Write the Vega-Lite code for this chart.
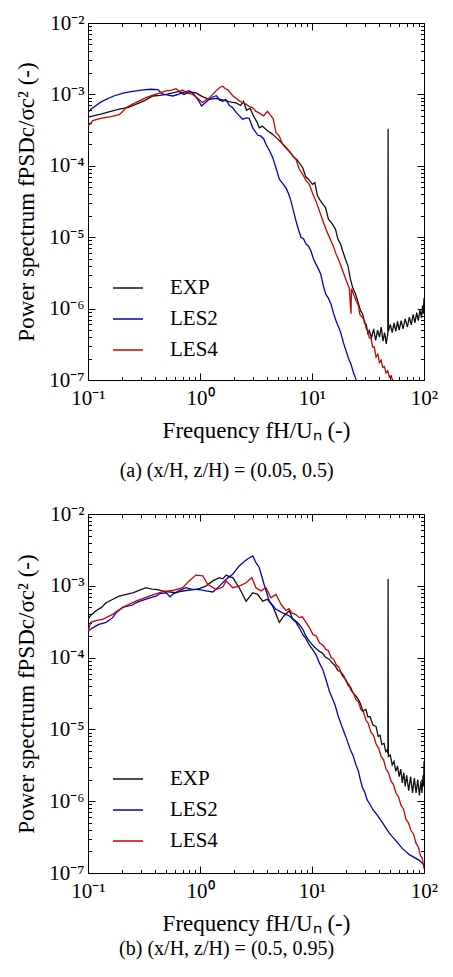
{
"$schema": "https://vega.github.io/schema/vega-lite/v6.json",
"background": "white",
"padding": {"left": 15, "top": 12, "right": 5, "bottom": 5},
"spacing": 22,
"config": {
  "font": "Liberation Serif",
  "view": {"stroke": null},
  "axis": {"labelFont": "Liberation Serif", "titleFont": "Liberation Serif", "labelColor": "black", "titleColor": "black", "domainColor": "black", "tickColor": "black", "grid": false, "labelFontSize": 21, "titleFontSize": 23, "titleFontWeight": "normal"},
  "title": {"font": "Liberation Serif", "fontWeight": "normal", "color": "black"}
},
"resolve": {"legend": {"color": "independent"}},
"datasets": {
"a": [
{"s":"EXP","x":0.1,"y":4.8e-4},{"s":"EXP","x":0.13,"y":5.3e-4},{"s":"EXP","x":0.16,"y":5.8e-4},{"s":"EXP","x":0.19,"y":6.2e-4},{"s":"EXP","x":0.23,"y":6.6e-4},{"s":"EXP","x":0.27,"y":7.3e-4},{"s":"EXP","x":0.32,"y":8.2e-4},{"s":"EXP","x":0.38,"y":9.5e-4},{"s":"EXP","x":0.44,"y":9.7e-4},{"s":"EXP","x":0.5,"y":1.0e-3},{"s":"EXP","x":0.57,"y":1.05e-3},{"s":"EXP","x":0.65,"y":1.1e-3},{"s":"EXP","x":0.72,"y":1.0e-3},{"s":"EXP","x":0.8,"y":1.08e-3},{"s":"EXP","x":0.92,"y":1.05e-3},{"s":"EXP","x":1.05,"y":9.3e-4},{"s":"EXP","x":1.2,"y":8.5e-4},{"s":"EXP","x":1.4,"y":8.8e-4},{"s":"EXP","x":1.71,"y":8.1e-4},{"s":"EXP","x":1.9,"y":7.8e-4},{"s":"EXP","x":2.1,"y":7.6e-4},{"s":"EXP","x":2.3,"y":7.0e-4},{"s":"EXP","x":2.45,"y":8.0e-4},{"s":"EXP","x":2.6,"y":6.0e-4},{"s":"EXP","x":2.8,"y":6.4e-4},{"s":"EXP","x":3.0,"y":5.0e-4},{"s":"EXP","x":3.2,"y":4.2e-4},{"s":"EXP","x":3.38,"y":3.4e-4},{"s":"EXP","x":3.6,"y":3.6e-4},{"s":"EXP","x":4.0,"y":3.1e-4},{"s":"EXP","x":4.4,"y":2.8e-4},{"s":"EXP","x":4.77,"y":2.5e-4},{"s":"EXP","x":5.2,"y":2.2e-4},{"s":"EXP","x":5.7,"y":1.9e-4},{"s":"EXP","x":6.27,"y":1.6e-4},{"s":"EXP","x":6.8,"y":1.35e-4},{"s":"EXP","x":7.4,"y":1.2e-4},{"s":"EXP","x":8.26,"y":9.4e-5},{"s":"EXP","x":8.8,"y":7.0e-5},{"s":"EXP","x":9.3,"y":6.5e-5},{"s":"EXP","x":10.1,"y":5.5e-5},{"s":"EXP","x":10.6,"y":5.8e-5},{"s":"EXP","x":11.2,"y":3.8e-5},{"s":"EXP","x":11.8,"y":3.3e-5},{"s":"EXP","x":12.5,"y":2.9e-5},{"s":"EXP","x":13.2,"y":2.6e-5},{"s":"EXP","x":14,"y":1.8e-5},{"s":"EXP","x":15.3,"y":1.5e-5},{"s":"EXP","x":16.2,"y":1.3e-5},{"s":"EXP","x":17,"y":9.5e-6},{"s":"EXP","x":18,"y":8.0e-6},{"s":"EXP","x":18.8,"y":6.4e-6},{"s":"EXP","x":20,"y":4.8e-6},{"s":"EXP","x":21,"y":3.9e-6},{"s":"EXP","x":22,"y":2.6e-6},{"s":"EXP","x":23.1,"y":1.95e-6},{"s":"EXP","x":24.5,"y":1.6e-6},{"s":"EXP","x":25.5,"y":1.3e-6},{"s":"EXP","x":27,"y":9.5e-7},{"s":"EXP","x":28.4,"y":8.3e-7},{"s":"EXP","x":29.5,"y":6.2e-7},{"s":"EXP","x":30.5,"y":6.0e-7},{"s":"EXP","x":31.5,"y":4.5e-7},{"s":"EXP","x":32.5,"y":4.9e-7},{"s":"EXP","x":34,"y":3.9e-7},{"s":"EXP","x":35.5,"y":5.2e-7},{"s":"EXP","x":37,"y":3.6e-7},{"s":"EXP","x":38.5,"y":5.0e-7},{"s":"EXP","x":40,"y":4.0e-7},{"s":"EXP","x":41.5,"y":5.5e-7},{"s":"EXP","x":43,"y":3.5e-7},{"s":"EXP","x":44.5,"y":4.6e-7},{"s":"EXP","x":46,"y":3.2e-7},{"s":"EXP","x":47.5,"y":4.5e-7},{"s":"EXP","x":47.8,"y":3.3e-4},{"s":"EXP","x":48.1,"y":4.8e-7},{"s":"EXP","x":50,"y":6.0e-7},{"s":"EXP","x":52,"y":4.6e-7},{"s":"EXP","x":54,"y":6.3e-7},{"s":"EXP","x":56,"y":4.8e-7},{"s":"EXP","x":58,"y":6.6e-7},{"s":"EXP","x":60,"y":5.0e-7},{"s":"EXP","x":62.5,"y":6.8e-7},{"s":"EXP","x":65,"y":5.2e-7},{"s":"EXP","x":68,"y":7.2e-7},{"s":"EXP","x":71,"y":5.5e-7},{"s":"EXP","x":74,"y":7.6e-7},{"s":"EXP","x":77,"y":5.9e-7},{"s":"EXP","x":80,"y":8.3e-7},{"s":"EXP","x":83,"y":6.3e-7},{"s":"EXP","x":86,"y":8.8e-7},{"s":"EXP","x":89,"y":6.8e-7},{"s":"EXP","x":92,"y":9.6e-7},{"s":"EXP","x":95,"y":7.4e-7},{"s":"EXP","x":97,"y":1.1e-6},{"s":"EXP","x":98.5,"y":8.5e-7},{"s":"EXP","x":100,"y":1.4e-6},
{"s":"LES2","x":0.1,"y":5.5e-4},{"s":"LES2","x":0.106,"y":6.2e-4},{"s":"LES2","x":0.118,"y":7.0e-4},{"s":"LES2","x":0.13,"y":7.8e-4},{"s":"LES2","x":0.145,"y":8.5e-4},{"s":"LES2","x":0.17,"y":9.5e-4},{"s":"LES2","x":0.21,"y":1.05e-3},{"s":"LES2","x":0.25,"y":1.1e-3},{"s":"LES2","x":0.3,"y":1.15e-3},{"s":"LES2","x":0.36,"y":1.18e-3},{"s":"LES2","x":0.42,"y":1.17e-3},{"s":"LES2","x":0.46,"y":1.02e-3},{"s":"LES2","x":0.52,"y":9.8e-4},{"s":"LES2","x":0.57,"y":9.5e-4},{"s":"LES2","x":0.64,"y":1.0e-3},{"s":"LES2","x":0.7,"y":1.06e-3},{"s":"LES2","x":0.76,"y":1.1e-3},{"s":"LES2","x":0.8,"y":1.13e-3},{"s":"LES2","x":0.86,"y":1.05e-3},{"s":"LES2","x":0.92,"y":9.2e-4},{"s":"LES2","x":0.98,"y":8.0e-4},{"s":"LES2","x":1.03,"y":6.9e-4},{"s":"LES2","x":1.1,"y":7.5e-4},{"s":"LES2","x":1.18,"y":8.3e-4},{"s":"LES2","x":1.3,"y":9.2e-4},{"s":"LES2","x":1.4,"y":9.6e-4},{"s":"LES2","x":1.5,"y":8.3e-4},{"s":"LES2","x":1.6,"y":8.0e-4},{"s":"LES2","x":1.7,"y":8.5e-4},{"s":"LES2","x":1.83,"y":7.0e-4},{"s":"LES2","x":1.96,"y":6.5e-4},{"s":"LES2","x":2.1,"y":5.6e-4},{"s":"LES2","x":2.25,"y":5.0e-4},{"s":"LES2","x":2.4,"y":4.5e-4},{"s":"LES2","x":2.6,"y":4.7e-4},{"s":"LES2","x":2.75,"y":4.6e-4},{"s":"LES2","x":2.96,"y":3.4e-4},{"s":"LES2","x":3.27,"y":2.7e-4},{"s":"LES2","x":3.5,"y":2.6e-4},{"s":"LES2","x":3.7,"y":2.4e-4},{"s":"LES2","x":3.88,"y":2.0e-4},{"s":"LES2","x":4.2,"y":1.6e-4},{"s":"LES2","x":4.46,"y":1.3e-4},{"s":"LES2","x":4.8,"y":9.0e-5},{"s":"LES2","x":5.11,"y":6.5e-5},{"s":"LES2","x":5.5,"y":5.6e-5},{"s":"LES2","x":5.86,"y":4.9e-5},{"s":"LES2","x":6.2,"y":4.0e-5},{"s":"LES2","x":6.49,"y":3.2e-5},{"s":"LES2","x":6.8,"y":2.4e-5},{"s":"LES2","x":7.19,"y":1.7e-5},{"s":"LES2","x":7.6,"y":1.25e-5},{"s":"LES2","x":7.97,"y":1.0e-5},{"s":"LES2","x":8.4,"y":9.5e-6},{"s":"LES2","x":8.84,"y":8.0e-6},{"s":"LES2","x":9.3,"y":7.5e-6},{"s":"LES2","x":9.79,"y":6.4e-6},{"s":"LES2","x":10.3,"y":5.0e-6},{"s":"LES2","x":10.85,"y":4.2e-6},{"s":"LES2","x":11.4,"y":3.6e-6},{"s":"LES2","x":12.0,"y":3.0e-6},{"s":"LES2","x":12.6,"y":2.1e-6},{"s":"LES2","x":13.3,"y":1.58e-6},{"s":"LES2","x":14,"y":1.4e-6},{"s":"LES2","x":14.8,"y":1.15e-6},{"s":"LES2","x":15.6,"y":8.5e-7},{"s":"LES2","x":16.4,"y":6.7e-7},{"s":"LES2","x":17.3,"y":5.5e-7},{"s":"LES2","x":18.2,"y":4.4e-7},{"s":"LES2","x":19.1,"y":3.3e-7},{"s":"LES2","x":20.1,"y":2.6e-7},{"s":"LES2","x":21.2,"y":2.0e-7},{"s":"LES2","x":22.3,"y":1.66e-7},{"s":"LES2","x":23.5,"y":1.25e-7},{"s":"LES2","x":24.7,"y":1.02e-7},{"s":"LES2","x":26,"y":8e-8},
{"s":"LES4","x":0.1,"y":3.6e-4},{"s":"LES4","x":0.105,"y":3.9e-4},{"s":"LES4","x":0.11,"y":4.3e-4},{"s":"LES4","x":0.13,"y":4.6e-4},{"s":"LES4","x":0.16,"y":4.9e-4},{"s":"LES4","x":0.19,"y":5.2e-4},{"s":"LES4","x":0.205,"y":5.8e-4},{"s":"LES4","x":0.218,"y":6.5e-4},{"s":"LES4","x":0.25,"y":7.3e-4},{"s":"LES4","x":0.287,"y":8.1e-4},{"s":"LES4","x":0.33,"y":9.0e-4},{"s":"LES4","x":0.38,"y":9.8e-4},{"s":"LES4","x":0.44,"y":1.05e-3},{"s":"LES4","x":0.5,"y":1.12e-3},{"s":"LES4","x":0.56,"y":1.15e-3},{"s":"LES4","x":0.61,"y":1.2e-3},{"s":"LES4","x":0.66,"y":1.1e-3},{"s":"LES4","x":0.7,"y":1.15e-3},{"s":"LES4","x":0.76,"y":1.05e-3},{"s":"LES4","x":0.86,"y":1.0e-3},{"s":"LES4","x":0.95,"y":8.8e-4},{"s":"LES4","x":1.05,"y":7.7e-4},{"s":"LES4","x":1.15,"y":8.5e-4},{"s":"LES4","x":1.21,"y":9.0e-4},{"s":"LES4","x":1.3,"y":1.0e-3},{"s":"LES4","x":1.39,"y":1.12e-3},{"s":"LES4","x":1.5,"y":1.25e-3},{"s":"LES4","x":1.6,"y":1.3e-3},{"s":"LES4","x":1.68,"y":1.2e-3},{"s":"LES4","x":1.77,"y":1.17e-3},{"s":"LES4","x":1.87,"y":1.05e-3},{"s":"LES4","x":1.96,"y":9.6e-4},{"s":"LES4","x":2.1,"y":8.8e-4},{"s":"LES4","x":2.24,"y":8.1e-4},{"s":"LES4","x":2.4,"y":7.7e-4},{"s":"LES4","x":2.57,"y":7.3e-4},{"s":"LES4","x":2.75,"y":6.8e-4},{"s":"LES4","x":2.96,"y":6.5e-4},{"s":"LES4","x":3.15,"y":5.8e-4},{"s":"LES4","x":3.37,"y":5.5e-4},{"s":"LES4","x":3.7,"y":5.0e-4},{"s":"LES4","x":4.0,"y":5.8e-4},{"s":"LES4","x":4.3,"y":5.0e-4},{"s":"LES4","x":4.5,"y":4.6e-4},{"s":"LES4","x":4.77,"y":2.9e-4},{"s":"LES4","x":5.1,"y":2.6e-4},{"s":"LES4","x":5.47,"y":2.0e-4},{"s":"LES4","x":5.9,"y":1.75e-4},{"s":"LES4","x":6.27,"y":1.6e-4},{"s":"LES4","x":6.7,"y":1.4e-4},{"s":"LES4","x":7.19,"y":1.23e-4},{"s":"LES4","x":7.7,"y":9.0e-5},{"s":"LES4","x":8.26,"y":7.6e-5},{"s":"LES4","x":8.8,"y":6.3e-5},{"s":"LES4","x":9.46,"y":5.5e-5},{"s":"LES4","x":10.2,"y":4.0e-5},{"s":"LES4","x":10.85,"y":3.2e-5},{"s":"LES4","x":11.7,"y":2.3e-5},{"s":"LES4","x":12.5,"y":1.7e-5},{"s":"LES4","x":13.3,"y":1.3e-5},{"s":"LES4","x":14.3,"y":1.0e-5},{"s":"LES4","x":15.5,"y":7.5e-6},{"s":"LES4","x":16.4,"y":5.8e-6},{"s":"LES4","x":17.5,"y":4.6e-6},{"s":"LES4","x":18.8,"y":3.4e-6},{"s":"LES4","x":20,"y":2.6e-6},{"s":"LES4","x":21.5,"y":1.95e-6},{"s":"LES4","x":22.3,"y":8.5e-7},{"s":"LES4","x":22.5,"y":1.9e-6},{"s":"LES4","x":24.7,"y":1.3e-6},{"s":"LES4","x":26,"y":1.1e-6},{"s":"LES4","x":26.8,"y":8.2e-7},{"s":"LES4","x":28.4,"y":7.4e-7},{"s":"LES4","x":29.4,"y":6.8e-7},{"s":"LES4","x":30.5,"y":5.2e-7},{"s":"LES4","x":31.5,"y":5.0e-7},{"s":"LES4","x":32.5,"y":3.9e-7},{"s":"LES4","x":33.6,"y":3.9e-7},{"s":"LES4","x":34.8,"y":2.9e-7},{"s":"LES4","x":36,"y":2.9e-7},{"s":"LES4","x":37.3,"y":2.1e-7},{"s":"LES4","x":38.7,"y":2.3e-7},{"s":"LES4","x":40,"y":1.75e-7},{"s":"LES4","x":41.4,"y":1.9e-7},{"s":"LES4","x":42.8,"y":1.5e-7},{"s":"LES4","x":44.3,"y":1.55e-7},{"s":"LES4","x":45.8,"y":1.25e-7},{"s":"LES4","x":47.5,"y":1.35e-7},{"s":"LES4","x":49,"y":1.1e-7},{"s":"LES4","x":50.8,"y":1.15e-7},{"s":"LES4","x":52.5,"y":9.8e-8},{"s":"LES4","x":56.2,"y":9.5e-8},{"s":"LES4","x":60,"y":8e-8}
],
"b": [
{"s":"EXP","x":0.1,"y":3.4e-4},{"s":"EXP","x":0.106,"y":3.9e-4},{"s":"EXP","x":0.118,"y":4.5e-4},{"s":"EXP","x":0.132,"y":5.0e-4},{"s":"EXP","x":0.145,"y":5.8e-4},{"s":"EXP","x":0.17,"y":6.6e-4},{"s":"EXP","x":0.19,"y":7.2e-4},{"s":"EXP","x":0.22,"y":7.6e-4},{"s":"EXP","x":0.251,"y":8.0e-4},{"s":"EXP","x":0.29,"y":8.7e-4},{"s":"EXP","x":0.33,"y":9.4e-4},{"s":"EXP","x":0.37,"y":9.0e-4},{"s":"EXP","x":0.405,"y":8.9e-4},{"s":"EXP","x":0.46,"y":8.5e-4},{"s":"EXP","x":0.5,"y":8.3e-4},{"s":"EXP","x":0.61,"y":8.0e-4},{"s":"EXP","x":0.68,"y":8.4e-4},{"s":"EXP","x":0.75,"y":8.6e-4},{"s":"EXP","x":0.85,"y":8.8e-4},{"s":"EXP","x":0.92,"y":8.9e-4},{"s":"EXP","x":1.0,"y":9.2e-4},{"s":"EXP","x":1.13,"y":9.9e-4},{"s":"EXP","x":1.3,"y":1.17e-3},{"s":"EXP","x":1.49,"y":1.3e-3},{"s":"EXP","x":1.6,"y":1.25e-3},{"s":"EXP","x":1.71,"y":1.41e-3},{"s":"EXP","x":1.85,"y":1.33e-3},{"s":"EXP","x":1.96,"y":1.3e-3},{"s":"EXP","x":2.24,"y":9.4e-4},{"s":"EXP","x":2.58,"y":6.1e-4},{"s":"EXP","x":2.96,"y":8.0e-4},{"s":"EXP","x":3.27,"y":7.6e-4},{"s":"EXP","x":3.63,"y":6.1e-4},{"s":"EXP","x":4.0,"y":6.5e-4},{"s":"EXP","x":4.46,"y":5.2e-4},{"s":"EXP","x":5.11,"y":3.1e-4},{"s":"EXP","x":5.6,"y":3.8e-4},{"s":"EXP","x":6.27,"y":4.5e-4},{"s":"EXP","x":6.7,"y":3.5e-4},{"s":"EXP","x":7.19,"y":3.2e-4},{"s":"EXP","x":7.7,"y":2.9e-4},{"s":"EXP","x":8.26,"y":2.5e-4},{"s":"EXP","x":8.8,"y":2.0e-4},{"s":"EXP","x":9.46,"y":1.7e-4},{"s":"EXP","x":10.5,"y":1.4e-4},{"s":"EXP","x":11.6,"y":1.23e-4},{"s":"EXP","x":12.4,"y":1.15e-4},{"s":"EXP","x":13.3,"y":1.0e-4},{"s":"EXP","x":14.2,"y":9.5e-5},{"s":"EXP","x":15.3,"y":8.3e-5},{"s":"EXP","x":16.2,"y":7.6e-5},{"s":"EXP","x":17,"y":6.6e-5},{"s":"EXP","x":17.9,"y":6.4e-5},{"s":"EXP","x":18.8,"y":5.5e-5},{"s":"EXP","x":20.1,"y":4.9e-5},{"s":"EXP","x":21,"y":4.1e-5},{"s":"EXP","x":22,"y":3.9e-5},{"s":"EXP","x":23.3,"y":3.2e-5},{"s":"EXP","x":24.7,"y":2.9e-5},{"s":"EXP","x":26,"y":2.6e-5},{"s":"EXP","x":27,"y":2.3e-5},{"s":"EXP","x":28.5,"y":1.8e-5},{"s":"EXP","x":30.3,"y":1.9e-5},{"s":"EXP","x":31.5,"y":1.5e-5},{"s":"EXP","x":33,"y":1.5e-5},{"s":"EXP","x":35,"y":1.15e-5},{"s":"EXP","x":37.3,"y":1.1e-5},{"s":"EXP","x":39,"y":8.0e-6},{"s":"EXP","x":40.5,"y":8.3e-6},{"s":"EXP","x":42,"y":6.2e-6},{"s":"EXP","x":44,"y":6.4e-6},{"s":"EXP","x":45.5,"y":4.9e-6},{"s":"EXP","x":47,"y":5.2e-6},{"s":"EXP","x":47.6,"y":4.6e-6},{"s":"EXP","x":47.8,"y":1.24e-3},{"s":"EXP","x":48.1,"y":4.2e-6},{"s":"EXP","x":50,"y":4.4e-6},{"s":"EXP","x":52,"y":3.2e-6},{"s":"EXP","x":54,"y":3.6e-6},{"s":"EXP","x":56,"y":2.6e-6},{"s":"EXP","x":58,"y":3.1e-6},{"s":"EXP","x":60,"y":2.2e-6},{"s":"EXP","x":62,"y":2.8e-6},{"s":"EXP","x":64,"y":1.8e-6},{"s":"EXP","x":66,"y":2.5e-6},{"s":"EXP","x":68,"y":1.6e-6},{"s":"EXP","x":70,"y":2.3e-6},{"s":"EXP","x":73,"y":1.4e-6},{"s":"EXP","x":76,"y":2.2e-6},{"s":"EXP","x":79,"y":1.3e-6},{"s":"EXP","x":82,"y":2.1e-6},{"s":"EXP","x":85,"y":1.3e-6},{"s":"EXP","x":88,"y":2.0e-6},{"s":"EXP","x":91,"y":1.2e-6},{"s":"EXP","x":94,"y":1.9e-6},{"s":"EXP","x":96,"y":1.3e-6},{"s":"EXP","x":98,"y":2.3e-6},{"s":"EXP","x":99,"y":1.6e-6},{"s":"EXP","x":100,"y":3.6e-6},
{"s":"LES2","x":0.1,"y":2.34e-4},{"s":"LES2","x":0.11,"y":2.6e-4},{"s":"LES2","x":0.125,"y":2.9e-4},{"s":"LES2","x":0.145,"y":3.1e-4},{"s":"LES2","x":0.166,"y":3.6e-4},{"s":"LES2","x":0.18,"y":4.3e-4},{"s":"LES2","x":0.204,"y":5.0e-4},{"s":"LES2","x":0.25,"y":5.4e-4},{"s":"LES2","x":0.268,"y":5.8e-4},{"s":"LES2","x":0.3,"y":6.2e-4},{"s":"LES2","x":0.33,"y":6.5e-4},{"s":"LES2","x":0.37,"y":6.9e-4},{"s":"LES2","x":0.405,"y":7.2e-4},{"s":"LES2","x":0.44,"y":7.8e-4},{"s":"LES2","x":0.5,"y":8.0e-4},{"s":"LES2","x":0.54,"y":7.0e-4},{"s":"LES2","x":0.57,"y":7.6e-4},{"s":"LES2","x":0.65,"y":8.6e-4},{"s":"LES2","x":0.75,"y":9.4e-4},{"s":"LES2","x":0.84,"y":9.0e-4},{"s":"LES2","x":0.92,"y":8.9e-4},{"s":"LES2","x":1.05,"y":8.7e-4},{"s":"LES2","x":1.13,"y":8.5e-4},{"s":"LES2","x":1.3,"y":8.2e-4},{"s":"LES2","x":1.49,"y":9.9e-4},{"s":"LES2","x":1.71,"y":1.23e-3},{"s":"LES2","x":1.96,"y":1.45e-3},{"s":"LES2","x":2.24,"y":1.89e-3},{"s":"LES2","x":2.5,"y":2.2e-3},{"s":"LES2","x":2.7,"y":2.4e-3},{"s":"LES2","x":2.96,"y":2.6e-3},{"s":"LES2","x":3.16,"y":2.1e-3},{"s":"LES2","x":3.38,"y":1.8e-3},{"s":"LES2","x":3.73,"y":1.05e-3},{"s":"LES2","x":4.16,"y":6.1e-4},{"s":"LES2","x":4.77,"y":4.7e-4},{"s":"LES2","x":5.47,"y":4.2e-4},{"s":"LES2","x":6.27,"y":3.8e-4},{"s":"LES2","x":7.19,"y":3.1e-4},{"s":"LES2","x":7.7,"y":2.6e-4},{"s":"LES2","x":8.26,"y":2.1e-4},{"s":"LES2","x":8.8,"y":1.85e-4},{"s":"LES2","x":9.46,"y":1.5e-4},{"s":"LES2","x":10.1,"y":1.3e-4},{"s":"LES2","x":10.85,"y":1.1e-4},{"s":"LES2","x":11.6,"y":8.5e-5},{"s":"LES2","x":12.5,"y":6.8e-5},{"s":"LES2","x":13.3,"y":5.0e-5},{"s":"LES2","x":14.3,"y":3.4e-5},{"s":"LES2","x":15.5,"y":2.5e-5},{"s":"LES2","x":16.2,"y":2.1e-5},{"s":"LES2","x":17,"y":1.6e-5},{"s":"LES2","x":18.3,"y":1.15e-5},{"s":"LES2","x":20.1,"y":7.8e-6},{"s":"LES2","x":22,"y":5.2e-6},{"s":"LES2","x":23.3,"y":4.3e-6},{"s":"LES2","x":24.7,"y":3.2e-6},{"s":"LES2","x":26,"y":2.6e-6},{"s":"LES2","x":27,"y":2.0e-6},{"s":"LES2","x":28.2,"y":1.55e-6},{"s":"LES2","x":29.5,"y":1.35e-6},{"s":"LES2","x":31,"y":1.05e-6},{"s":"LES2","x":33,"y":9.0e-7},{"s":"LES2","x":35,"y":7.6e-7},{"s":"LES2","x":38,"y":6.5e-7},{"s":"LES2","x":42.7,"y":5.0e-7},{"s":"LES2","x":49,"y":3.6e-7},{"s":"LES2","x":56.2,"y":2.8e-7},{"s":"LES2","x":64,"y":2.2e-7},{"s":"LES2","x":74,"y":1.8e-7},{"s":"LES2","x":90.8,"y":1.5e-7},{"s":"LES2","x":100,"y":1.3e-7},
{"s":"LES4","x":0.1,"y":2.34e-4},{"s":"LES4","x":0.106,"y":3.1e-4},{"s":"LES4","x":0.12,"y":3.3e-4},{"s":"LES4","x":0.135,"y":3.4e-4},{"s":"LES4","x":0.166,"y":4.0e-4},{"s":"LES4","x":0.204,"y":5.0e-4},{"s":"LES4","x":0.268,"y":6.1e-4},{"s":"LES4","x":0.352,"y":7.2e-4},{"s":"LES4","x":0.465,"y":8.3e-4},{"s":"LES4","x":0.57,"y":8.6e-4},{"s":"LES4","x":0.7,"y":9.4e-4},{"s":"LES4","x":0.8,"y":1.17e-3},{"s":"LES4","x":0.92,"y":1.41e-3},{"s":"LES4","x":1.06,"y":1.38e-3},{"s":"LES4","x":1.17,"y":1.05e-3},{"s":"LES4","x":1.39,"y":8.9e-4},{"s":"LES4","x":1.6,"y":9.6e-4},{"s":"LES4","x":1.71,"y":1.17e-3},{"s":"LES4","x":1.83,"y":1.05e-3},{"s":"LES4","x":1.96,"y":9.4e-4},{"s":"LES4","x":2.24,"y":9.9e-4},{"s":"LES4","x":2.58,"y":1.1e-3},{"s":"LES4","x":2.9,"y":1.3e-3},{"s":"LES4","x":3.16,"y":9.4e-4},{"s":"LES4","x":3.5,"y":8.5e-4},{"s":"LES4","x":3.88,"y":9.4e-4},{"s":"LES4","x":4.3,"y":6.8e-4},{"s":"LES4","x":4.77,"y":7.6e-4},{"s":"LES4","x":5.3,"y":5.5e-4},{"s":"LES4","x":5.86,"y":4.5e-4},{"s":"LES4","x":6.2,"y":4.8e-4},{"s":"LES4","x":6.6,"y":4.2e-4},{"s":"LES4","x":7.1,"y":4.0e-4},{"s":"LES4","x":7.7,"y":3.6e-4},{"s":"LES4","x":8.2,"y":3.7e-4},{"s":"LES4","x":8.84,"y":3.1e-4},{"s":"LES4","x":9.5,"y":2.6e-4},{"s":"LES4","x":10.2,"y":2.1e-4},{"s":"LES4","x":10.9,"y":2.0e-4},{"s":"LES4","x":11.7,"y":1.6e-4},{"s":"LES4","x":12.5,"y":1.5e-4},{"s":"LES4","x":13.3,"y":1.3e-4},{"s":"LES4","x":14,"y":1.25e-4},{"s":"LES4","x":14.8,"y":1.0e-4},{"s":"LES4","x":15.6,"y":9.5e-5},{"s":"LES4","x":16.4,"y":8.0e-5},{"s":"LES4","x":17.3,"y":7.4e-5},{"s":"LES4","x":18.2,"y":6.2e-5},{"s":"LES4","x":19.2,"y":5.6e-5},{"s":"LES4","x":20.1,"y":4.7e-5},{"s":"LES4","x":21.2,"y":4.3e-5},{"s":"LES4","x":22.3,"y":3.5e-5},{"s":"LES4","x":23.5,"y":3.2e-5},{"s":"LES4","x":24.7,"y":2.6e-5},{"s":"LES4","x":26,"y":2.4e-5},{"s":"LES4","x":27.3,"y":1.9e-5},{"s":"LES4","x":28.8,"y":1.75e-5},{"s":"LES4","x":30.3,"y":1.35e-5},{"s":"LES4","x":31.9,"y":1.2e-5},{"s":"LES4","x":33.5,"y":9.2e-6},{"s":"LES4","x":35.4,"y":8.3e-6},{"s":"LES4","x":37.3,"y":6.3e-6},{"s":"LES4","x":39.3,"y":5.5e-6},{"s":"LES4","x":41.4,"y":4.2e-6},{"s":"LES4","x":43.5,"y":3.8e-6},{"s":"LES4","x":45.8,"y":2.8e-6},{"s":"LES4","x":48.2,"y":2.5e-6},{"s":"LES4","x":50.8,"y":1.9e-6},{"s":"LES4","x":53.4,"y":1.7e-6},{"s":"LES4","x":56.2,"y":1.3e-6},{"s":"LES4","x":59.2,"y":1.15e-6},{"s":"LES4","x":62.3,"y":8.8e-7},{"s":"LES4","x":65.6,"y":7.8e-7},{"s":"LES4","x":69,"y":5.6e-7},{"s":"LES4","x":72.6,"y":5.0e-7},{"s":"LES4","x":76.5,"y":3.9e-7},{"s":"LES4","x":80.5,"y":3.5e-7},{"s":"LES4","x":84.9,"y":2.6e-7},{"s":"LES4","x":89,"y":2.3e-7},{"s":"LES4","x":93,"y":1.75e-7},{"s":"LES4","x":96.5,"y":1.6e-7},{"s":"LES4","x":100,"y":1.15e-7}
]
},
"vconcat": [
{
  "width": 336, "height": 357,
  "title": {"text": "(a)    (x/H, z/H) = (0.05, 0.5)", "orient": "bottom", "anchor": "middle", "frame": "bounds", "fontSize": 20, "offset": 18},
  "data": {"name": "a"},
  "layer": [
    {"mark": {"type": "line", "clip": true, "strokeWidth": 1.3},
     "encoding": {
      "x": {"field": "x", "type": "quantitative", "scale": {"type": "log", "domain": [0.1, 100], "nice": false},
        "axis": {"orient": "bottom", "title": "Frequency fH/Uₙ (-)", "titlePadding": 8,
          "values": [0.1,0.2,0.3,0.4,0.5,0.6,0.7,0.8,0.9,1,2,3,4,5,6,7,8,9,10,20,30,40,50,60,70,80,90,100],
          "labelExpr": "abs(log(datum.value)/LN10 - round(log(datum.value)/LN10)) < 0.01 ? '10' + (round(log(datum.value)/LN10) < 0 ? '⁻' : '') + ['⁰','¹','²','³','⁴','⁵','⁶','⁷','⁸','⁹'][abs(round(log(datum.value)/LN10))] : ''",
          "tickSize": {"condition": {"test": "abs(log(datum.value)/LN10 - round(log(datum.value)/LN10)) < 0.01", "value": -7}, "value": -3.5},
          "labelPadding": 14, "labelFlush": false, "labelOverlap": false}},
      "y": {"field": "y", "type": "quantitative", "scale": {"type": "log", "domain": [1e-7, 1e-2], "nice": false},
        "axis": {"orient": "left", "title": "Power spectrum fPSDc/σc² (-)", "titlePadding": 10,
          "values": [1e-7,2e-7,3e-7,4e-7,5e-7,6e-7,7e-7,8e-7,9e-7,1e-6,2e-6,3e-6,4e-6,5e-6,6e-6,7e-6,8e-6,9e-6,1e-5,2e-5,3e-5,4e-5,5e-5,6e-5,7e-5,8e-5,9e-5,1e-4,2e-4,3e-4,4e-4,5e-4,6e-4,7e-4,8e-4,9e-4,1e-3,2e-3,3e-3,4e-3,5e-3,6e-3,7e-3,8e-3,9e-3,1e-2],
          "labelExpr": "abs(log(datum.value)/LN10 - round(log(datum.value)/LN10)) < 0.01 ? '10' + (round(log(datum.value)/LN10) < 0 ? '⁻' : '') + ['⁰','¹','²','³','⁴','⁵','⁶','⁷','⁸','⁹'][abs(round(log(datum.value)/LN10))] : ''",
          "tickSize": {"condition": {"test": "abs(log(datum.value)/LN10 - round(log(datum.value)/LN10)) < 0.01", "value": -7}, "value": -3.5},
          "labelPadding": 11, "labelFlush": false, "labelOverlap": false}},
      "color": {"field": "s", "type": "nominal", "scale": {"domain": ["EXP", "LES2", "LES4"], "range": ["#111111", "#0000c8", "#cc0000"]},
        "legend": {"orient": "none", "legendX": 24, "legendY": 249, "title": null, "symbolType": "stroke", "symbolSize": 900, "symbolStrokeWidth": 1.5, "labelFont": "Liberation Serif", "labelFontSize": 21, "labelColor": "black", "labelOffset": 26, "rowPadding": 5, "padding": 0}}
     }},
    {"mark": {"type": "line", "opacity": 0},
     "encoding": {
      "x": {"field": "x", "type": "quantitative", "scale": {"type": "log", "domain": [0.1, 100], "nice": false},
        "axis": {"orient": "top", "title": null, "labels": false,
          "values": [0.1,0.2,0.3,0.4,0.5,0.6,0.7,0.8,0.9,1,2,3,4,5,6,7,8,9,10,20,30,40,50,60,70,80,90,100],
          "tickSize": {"condition": {"test": "abs(log(datum.value)/LN10 - round(log(datum.value)/LN10)) < 0.01", "value": -7}, "value": -3.5}}},
      "y": {"field": "y", "type": "quantitative", "scale": {"type": "log", "domain": [1e-7, 1e-2], "nice": false},
        "axis": {"orient": "right", "title": null, "labels": false,
          "values": [1e-7,2e-7,3e-7,4e-7,5e-7,6e-7,7e-7,8e-7,9e-7,1e-6,2e-6,3e-6,4e-6,5e-6,6e-6,7e-6,8e-6,9e-6,1e-5,2e-5,3e-5,4e-5,5e-5,6e-5,7e-5,8e-5,9e-5,1e-4,2e-4,3e-4,4e-4,5e-4,6e-4,7e-4,8e-4,9e-4,1e-3,2e-3,3e-3,4e-3,5e-3,6e-3,7e-3,8e-3,9e-3,1e-2],
          "tickSize": {"condition": {"test": "abs(log(datum.value)/LN10 - round(log(datum.value)/LN10)) < 0.01", "value": -7}, "value": -3.5}}},
      "detail": {"field": "s"}
     }}
  ],
  "resolve": {"scale": {"x": "independent", "y": "independent"}}
},
{
  "width": 336, "height": 359,
  "title": {"text": "(b) (x/H, z/H) = (0.5, 0.95)", "orient": "bottom", "anchor": "middle", "frame": "bounds", "fontSize": 20, "offset": 3},
  "data": {"name": "b"},
  "layer": [
    {"mark": {"type": "line", "clip": true, "strokeWidth": 1.3},
     "encoding": {
      "x": {"field": "x", "type": "quantitative", "scale": {"type": "log", "domain": [0.1, 100], "nice": false},
        "axis": {"orient": "bottom", "title": "Frequency fH/Uₙ (-)", "titlePadding": 8,
          "values": [0.1,0.2,0.3,0.4,0.5,0.6,0.7,0.8,0.9,1,2,3,4,5,6,7,8,9,10,20,30,40,50,60,70,80,90,100],
          "labelExpr": "abs(log(datum.value)/LN10 - round(log(datum.value)/LN10)) < 0.01 ? '10' + (round(log(datum.value)/LN10) < 0 ? '⁻' : '') + ['⁰','¹','²','³','⁴','⁵','⁶','⁷','⁸','⁹'][abs(round(log(datum.value)/LN10))] : ''",
          "tickSize": {"condition": {"test": "abs(log(datum.value)/LN10 - round(log(datum.value)/LN10)) < 0.01", "value": -7}, "value": -3.5},
          "labelPadding": 14, "labelFlush": false, "labelOverlap": false}},
      "y": {"field": "y", "type": "quantitative", "scale": {"type": "log", "domain": [1e-7, 1e-2], "nice": false},
        "axis": {"orient": "left", "title": "Power spectrum fPSDc/σc² (-)", "titlePadding": 10,
          "values": [1e-7,2e-7,3e-7,4e-7,5e-7,6e-7,7e-7,8e-7,9e-7,1e-6,2e-6,3e-6,4e-6,5e-6,6e-6,7e-6,8e-6,9e-6,1e-5,2e-5,3e-5,4e-5,5e-5,6e-5,7e-5,8e-5,9e-5,1e-4,2e-4,3e-4,4e-4,5e-4,6e-4,7e-4,8e-4,9e-4,1e-3,2e-3,3e-3,4e-3,5e-3,6e-3,7e-3,8e-3,9e-3,1e-2],
          "labelExpr": "abs(log(datum.value)/LN10 - round(log(datum.value)/LN10)) < 0.01 ? '10' + (round(log(datum.value)/LN10) < 0 ? '⁻' : '') + ['⁰','¹','²','³','⁴','⁵','⁶','⁷','⁸','⁹'][abs(round(log(datum.value)/LN10))] : ''",
          "tickSize": {"condition": {"test": "abs(log(datum.value)/LN10 - round(log(datum.value)/LN10)) < 0.01", "value": -7}, "value": -3.5},
          "labelPadding": 11, "labelFlush": false, "labelOverlap": false}},
      "color": {"field": "s", "type": "nominal", "scale": {"domain": ["EXP", "LES2", "LES4"], "range": ["#111111", "#0000c8", "#cc0000"]},
        "legend": {"orient": "none", "legendX": 24, "legendY": 249, "title": null, "symbolType": "stroke", "symbolSize": 900, "symbolStrokeWidth": 1.5, "labelFont": "Liberation Serif", "labelFontSize": 21, "labelColor": "black", "labelOffset": 26, "rowPadding": 5, "padding": 0}}
     }},
    {"mark": {"type": "line", "opacity": 0},
     "encoding": {
      "x": {"field": "x", "type": "quantitative", "scale": {"type": "log", "domain": [0.1, 100], "nice": false},
        "axis": {"orient": "top", "title": null, "labels": false,
          "values": [0.1,0.2,0.3,0.4,0.5,0.6,0.7,0.8,0.9,1,2,3,4,5,6,7,8,9,10,20,30,40,50,60,70,80,90,100],
          "tickSize": {"condition": {"test": "abs(log(datum.value)/LN10 - round(log(datum.value)/LN10)) < 0.01", "value": -7}, "value": -3.5}}},
      "y": {"field": "y", "type": "quantitative", "scale": {"type": "log", "domain": [1e-7, 1e-2], "nice": false},
        "axis": {"orient": "right", "title": null, "labels": false,
          "values": [1e-7,2e-7,3e-7,4e-7,5e-7,6e-7,7e-7,8e-7,9e-7,1e-6,2e-6,3e-6,4e-6,5e-6,6e-6,7e-6,8e-6,9e-6,1e-5,2e-5,3e-5,4e-5,5e-5,6e-5,7e-5,8e-5,9e-5,1e-4,2e-4,3e-4,4e-4,5e-4,6e-4,7e-4,8e-4,9e-4,1e-3,2e-3,3e-3,4e-3,5e-3,6e-3,7e-3,8e-3,9e-3,1e-2],
          "tickSize": {"condition": {"test": "abs(log(datum.value)/LN10 - round(log(datum.value)/LN10)) < 0.01", "value": -7}, "value": -3.5}}},
      "detail": {"field": "s"}
     }}
  ],
  "resolve": {"scale": {"x": "independent", "y": "independent"}}
}
]
}
